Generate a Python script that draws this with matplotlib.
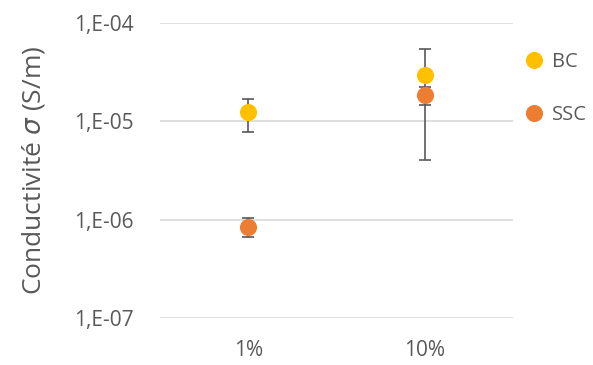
import math
import matplotlib.pyplot as plt
from matplotlib.ticker import FixedLocator, FuncFormatter

# data
categories = ['1%', '10%']
bc_values = [1.23e-5, 2.95e-5]
bc_errors = [0.46e-5, 2.55e-5]
ssc_values = [8.5e-7, 1.85e-5]
ssc_errors = [1.9e-7, 0.38e-5]
y_ticks = [1e-7, 1e-6, 1e-5, 1e-4]

plt.rcParams['font.family'] = ['Open Sans', 'DejaVu Sans']

fig = plt.figure(figsize=(5.93, 3.65), dpi=100)
ax = fig.add_axes([160 / 593, 47 / 365, 353 / 593, 295 / 365])

x = list(range(1, len(categories) + 1))
grey = '#595959'

ax.errorbar(x, bc_values, yerr=bc_errors, fmt='none', ecolor=grey,
            elinewidth=1.2, capsize=4.5, capthick=1.2, zorder=2)
ax.plot(x, bc_values, 'o', color='#FFC000', markersize=11.3, zorder=3,
        label='BC')
ax.errorbar(x, ssc_values, yerr=ssc_errors, fmt='none', ecolor=grey,
            elinewidth=1.2, capsize=4.5, capthick=1.2, zorder=4)
ax.plot(x, ssc_values, 'o', color='#ED7D31', markersize=11.3, zorder=5,
        label='SSC')

ax.set_yscale('log')
ax.set_ylim(1e-7, 1e-4)
ax.set_xlim(0.5, 2.5)
ax.yaxis.set_major_locator(FixedLocator(y_ticks))
ax.yaxis.set_minor_locator(FixedLocator([]))
ax.yaxis.set_major_formatter(
    FuncFormatter(lambda v, p: '1,E-%02d' % round(-math.log10(v))))
ax.set_xticks(x)
ax.set_xticklabels(categories)

ax.grid(axis='y', color='#D9D9D9', linewidth=1.2)
ax.set_axisbelow(True)
for s in ax.spines.values():
    s.set_visible(False)
ax.tick_params(axis='both', length=0, labelsize=15, colors=grey)
ax.tick_params(axis='x', pad=16)
ax.tick_params(axis='y', pad=19)

ax.set_ylabel(r'Conductivité $\sigma$ (S/m)', fontsize=19, color=grey)
ax.yaxis.set_label_coords(-0.32, 0.5)

ax.legend(loc='upper left', bbox_to_anchor=(0.975, 0.95), frameon=False,
          fontsize=14.5, labelcolor=grey, handletextpad=0.05,
          labelspacing=1.65, borderaxespad=0.3, handlelength=1.6)

fig.savefig('out.png', dpi=100)
